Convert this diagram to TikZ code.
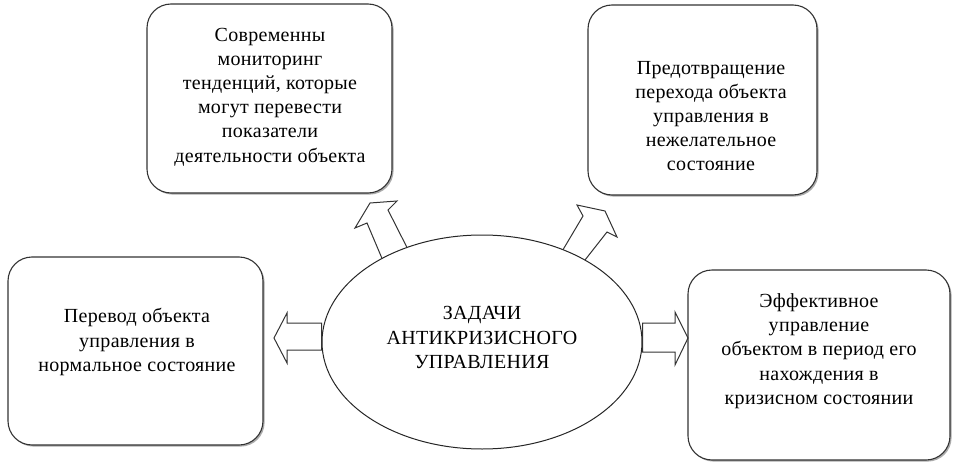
\documentclass[tikz,border=0pt]{standalone}
\usepackage{fontspec}
\setmainfont{Liberation Serif}[LetterSpace=1.5]
\usetikzlibrary{shapes.geometric,shadows}
\tikzset{
  txt/.style={font=\fontsize{20}{24.2}\selectfont, align=center, inner sep=0pt, text=black},
  taskbox/.style={draw=black!80, line width=1.1pt, rounded corners=24pt, fill=white,
    drop shadow={shadow xshift=1.6pt, shadow yshift=-1.6pt, fill=black!55, opacity=0.6}},
  blockarrow/.style={draw=black!80, line width=1pt, line join=miter},
}
\begin{document}
\begin{tikzpicture}[x=1pt,y=-1pt]
\useasboundingbox (0,0) rectangle (958,468);
% boxes
\node[taskbox, minimum width=245pt, minimum height=189pt] (tl) at (269.5,98.5) {};
\node[taskbox, minimum width=229pt, minimum height=190pt] (tr) at (702.5,100) {};
\node[taskbox, minimum width=255pt, minimum height=188pt] (l) at (135.5,351) {};
\node[taskbox, minimum width=262pt, minimum height=190pt] (r) at (819,365) {};
% ellipse
\node[ellipse, draw=black!85, line width=1pt, minimum width=320pt, minimum height=214pt, inner sep=0pt] (ell) at (482,342) {};
% texts
\node[txt] (ttl) at (270,97) {Современны\\мониторинг\\тенденций, которые\\могут перевести\\показатели\\деятельности объекта};
\node[txt] (ttr) at (711,116) {Предотвращение\\перехода объекта\\управления в\\нежелательное\\состояние};
\node[txt] (tl2) at (137,342) {Перевод объекта\\управления в\\нормальное состояние};
\node[txt] (tr2) at (819,351) {Эффективное\\управление\\объектом в период его\\нахождения в\\кризисном состоянии};
\node[txt] (tell) at (482,337.5) {ЗАДАЧИ\\АНТИКРИЗИСНОГО\\УПРАВЛЕНИЯ};
% block arrows
% left
\draw[blockarrow] (ell.west |- 0,323) -- (287,323) -- (287,313) -- (274,338) -- (287,363) -- (287,350) -- (ell.west |- 0,350) -- cycle;
% right
\draw[blockarrow] (ell.east |- 0,323) -- (675,323) -- (675,312) -- (688,338) -- (675,365) -- (675,352) -- (ell.east |- 0,352) -- cycle;
% top-left
\draw[blockarrow] (382,258.4) -- (367,223) -- (355,228) -- (370,203) -- (397,201) -- (388,210) -- (407,247.5);
% top-right
\draw[blockarrow] (563,249.7) -- (583,216) -- (577,205) -- (605,211) -- (617,237) -- (607,232) -- (585,260);
\end{tikzpicture}
\end{document}
